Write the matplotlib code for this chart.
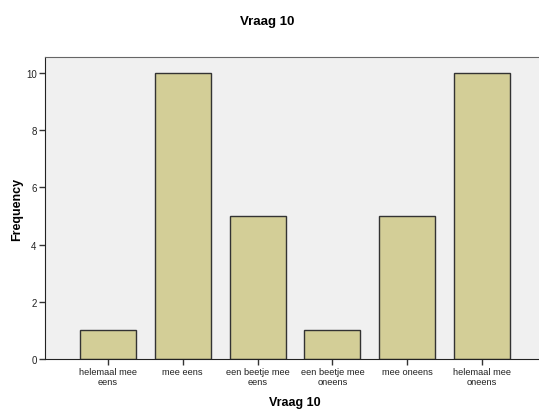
import matplotlib.pyplot as plt
import numpy as np

plt.rcParams['font.family'] = ['Liberation Sans', 'DejaVu Sans']

categories = ['helemaal mee\neens', 'mee eens', 'een beetje mee\neens',
              'een beetje mee\noneens', 'mee oneens', 'helemaal mee\noneens']
frequency = [1, 10, 5, 1, 5, 10]
y_ticks = [0, 2, 4, 6, 8, 10]

fig = plt.figure(figsize=(5.39, 4.10), dpi=100)
ax = fig.add_axes([45 / 539, 50 / 410, 500 / 539, 302 / 410])
ax.set_facecolor('#F0F0F0')

x = np.arange(len(categories))
ax.bar(x, frequency, width=0.75, color='#D3CE97', edgecolor='#333333', linewidth=1)

ax.set_xlim(-0.84, len(categories) - 1 + 0.84)
ax.set_ylim(0, 10.56)
ax.set_xticks(x)
ax.set_xticklabels(categories, fontsize=6.7, color='#222222', linespacing=1.05)
ax.set_yticks(y_ticks)
ax.set_yticklabels([str(v) for v in y_ticks], fontsize=7, color='#222222')
ax.tick_params(length=4, width=1, color='#333333', pad=2)

ax.spines['right'].set_visible(False)
ax.spines['top'].set_color('#666666')
ax.spines['left'].set_color('#222222')
ax.spines['bottom'].set_color('#222222')

ax.set_xlabel('Vraag 10', fontsize=9, fontweight='bold')
ax.set_ylabel('Frequency', fontsize=9, fontweight='bold')
ax.xaxis.set_label_coords(0.5, -37 / 302)
ax.yaxis.set_label_coords(-22 / 500, 0.5)
fig.text(267 / 539, 1 - 22 / 410, 'Vraag 10', fontsize=9.5, fontweight='bold',
         ha='center', va='center')

fig.savefig('out.png', dpi=100)
